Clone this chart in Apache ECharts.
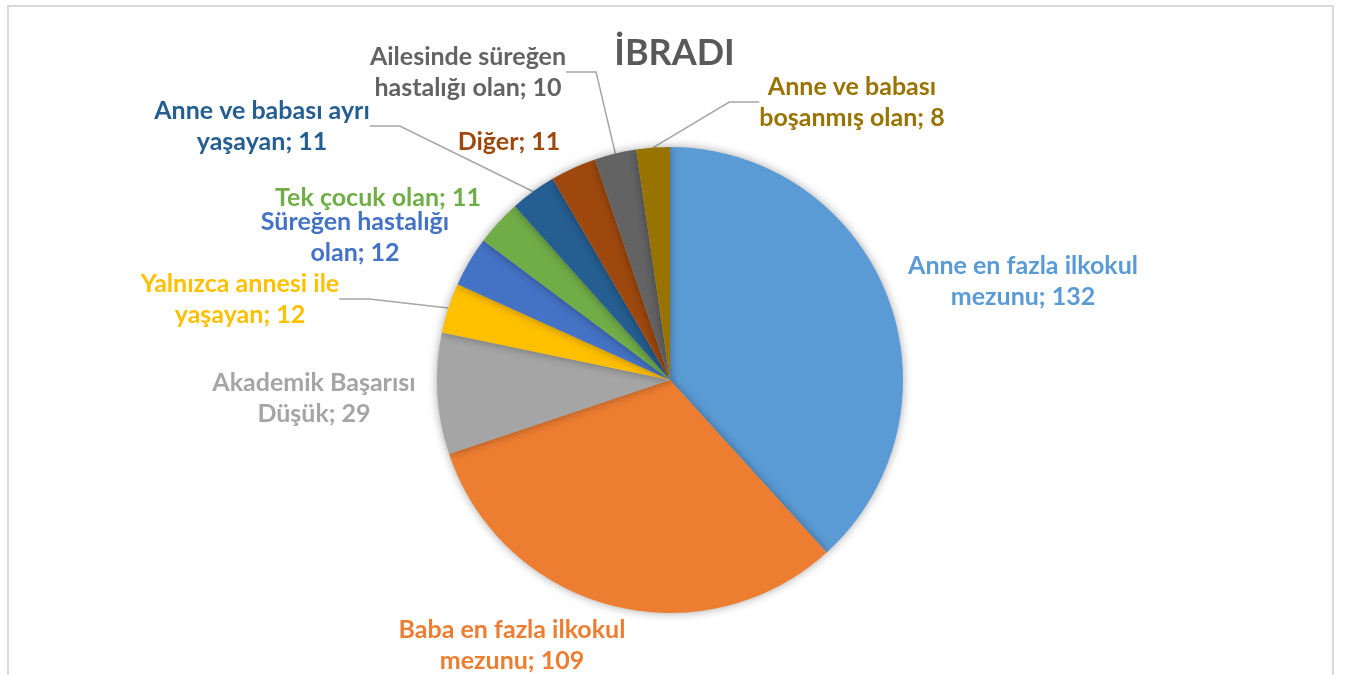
<!DOCTYPE html>
<html>
<head>
<meta charset="utf-8">
<script src="https://cdn.jsdelivr.net/npm/echarts@6/dist/echarts.min.js"></script>
<style>
html,body{margin:0;padding:0;background:#fff;}
#chart{width:1349px;height:675px;}
</style>
</head>
<body>
<div id="chart"></div>
<script>
// Data
const categories = [
  'Anne en fazla ilkokul\nmezunu',
  'Baba en fazla ilkokul\nmezunu',
  'Akademik Başarısı\nDüşük',
  'Yalnızca annesi ile\nyaşayan',
  'Süreğen hastalığı\nolan',
  'Tek çocuk olan',
  'Anne ve babası ayrı\nyaşayan',
  'Diğer',
  'Ailesinde süreğen\nhastalığı olan',
  'Anne ve babası\nboşanmış olan'
];
const values = [132, 109, 29, 12, 12, 11, 11, 11, 10, 8];
const withLeader = [false, false, false, true, false, false, true, false, true, true];
const title = 'İBRADI';

// Styles / layout
const colors = ['#5B9BD5','#ED7D31','#A5A5A5','#FFC000','#4472C4','#70AD47','#255E91','#9E480E','#636363','#997300'];
const labelPos = [
  [1023, 281], [512, 645], [314, 398], [240, 299], [355, 237],
  [378, 198], [262, 126], [509, 142], [468, 72], [852, 102]
];

const chart = echarts.init(document.getElementById('chart'));
chart.setOption({
  animation: false,
  title: {
    text: title, left: 'center', top: 30,
    textStyle: {fontFamily: 'Lato', fontWeight: 'bold', fontSize: 36, color: '#595959'}
  },
  graphic: [{
    type: 'rect', silent: true,
    shape: {x: 8, y: 6, width: 1325, height: 720},
    style: {fill: 'none', stroke: '#D9D9D9', lineWidth: 2}
  }],
  series: [{
    type: 'pie',
    center: [670, 380],
    radius: 233,
    startAngle: 90,
    clockwise: true,
    avoidLabelOverlap: false,
    itemStyle: {shadowBlur: 10, shadowColor: 'rgba(0,0,0,0.35)'},
    label: {
      show: true,
      formatter: '{b}; {c}',
      fontFamily: 'Lato', fontWeight: 'bold', fontSize: 25, lineHeight: 31,
      align: 'center'
    },
    labelLine: {show: true, lineStyle: {color: '#A6A6A6', width: 1.5}},
    labelLayout: function (p) {
      const pos = labelPos[p.dataIndex];
      return {x: pos[0], y: pos[1], align: 'center', verticalAlign: 'middle'};
    },
    data: categories.map((c, i) => ({
      name: c, value: values[i],
      itemStyle: {color: colors[i]},
      label: {color: colors[i]},
      labelLine: {show: withLeader[i]}
    }))
  }]
});
</script>
</body>
</html>
